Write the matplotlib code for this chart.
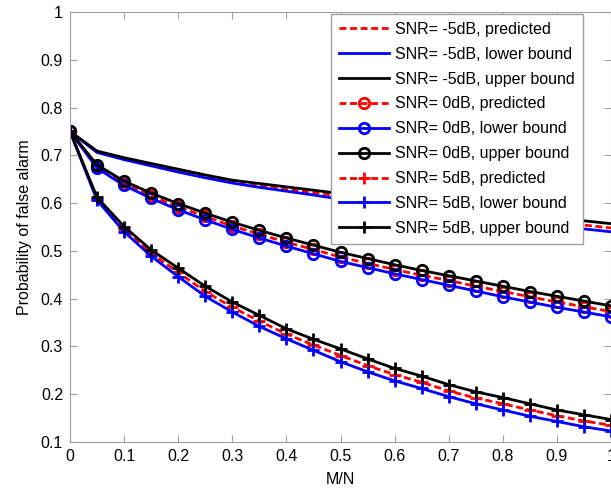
import matplotlib
matplotlib.use("Agg")
import matplotlib.pyplot as plt

plt.rcParams['font.family'] = ['Liberation Sans', 'DejaVu Sans']

mn = [0.0, 0.05, 0.1, 0.15, 0.2, 0.25, 0.3, 0.35, 0.4, 0.45, 0.5,
      0.55, 0.6, 0.65, 0.7, 0.75, 0.8, 0.85, 0.9, 0.95, 1.0]

# SNR = -5 dB
m5_pred = [0.750, 0.707, 0.693, 0.680, 0.668, 0.656, 0.645, 0.637, 0.629, 0.622, 0.614,
           0.607, 0.600, 0.594, 0.587, 0.580, 0.574, 0.567, 0.561, 0.554, 0.548]
m5_low = [0.750, 0.706, 0.691, 0.678, 0.665, 0.653, 0.642, 0.633, 0.625, 0.617, 0.608,
          0.601, 0.594, 0.587, 0.580, 0.573, 0.566, 0.559, 0.552, 0.546, 0.540]
m5_up = [0.750, 0.709, 0.695, 0.683, 0.671, 0.659, 0.648, 0.641, 0.634, 0.627, 0.620,
         0.614, 0.607, 0.601, 0.594, 0.588, 0.582, 0.576, 0.569, 0.563, 0.557]

# SNR = 0 dB
z_pred = [0.750, 0.676, 0.641, 0.615, 0.592, 0.572, 0.552, 0.535, 0.518, 0.503, 0.487,
          0.474, 0.461, 0.449, 0.438, 0.426, 0.415, 0.404, 0.393, 0.383, 0.373]
z_low = [0.750, 0.673, 0.637, 0.610, 0.586, 0.565, 0.545, 0.527, 0.510, 0.494, 0.478,
         0.465, 0.452, 0.440, 0.428, 0.416, 0.404, 0.393, 0.382, 0.372, 0.362]
z_up = [0.750, 0.680, 0.646, 0.621, 0.599, 0.579, 0.560, 0.543, 0.527, 0.512, 0.497,
        0.484, 0.471, 0.459, 0.448, 0.437, 0.426, 0.415, 0.405, 0.395, 0.385]

# SNR = 5 dB
p5_pred = [0.750, 0.609, 0.545, 0.495, 0.455, 0.415, 0.382, 0.353, 0.326, 0.303, 0.281,
           0.260, 0.241, 0.225, 0.207, 0.192, 0.180, 0.167, 0.155, 0.144, 0.135]
p5_low = [0.750, 0.606, 0.540, 0.489, 0.446, 0.405, 0.372, 0.342, 0.316, 0.292, 0.268,
          0.247, 0.228, 0.212, 0.195, 0.180, 0.167, 0.154, 0.143, 0.132, 0.123]
p5_up = [0.750, 0.612, 0.551, 0.502, 0.464, 0.426, 0.393, 0.365, 0.337, 0.315, 0.295,
         0.274, 0.254, 0.238, 0.220, 0.205, 0.193, 0.180, 0.167, 0.157, 0.147]

fig = plt.figure(figsize=(6.11, 4.88), dpi=100)
ax = fig.add_axes([70 / 611, 46 / 488, 541 / 611, 430 / 488])

fs = 11.5
lw = 2
dash = (2.5, 1.3)
series = [
    (m5_pred, 'r', '--', None, "SNR= -5dB, predicted"),
    (m5_low, 'b', '-', None, "SNR= -5dB, lower bound"),
    (m5_up, 'k', '-', None, "SNR= -5dB, upper bound"),
    (z_pred, 'r', '--', 'o', "SNR= 0dB, predicted"),
    (z_low, 'b', '-', 'o', "SNR= 0dB, lower bound"),
    (z_up, 'k', '-', 'o', "SNR= 0dB, upper bound"),
    (p5_pred, 'r', '--', '+', "SNR= 5dB, predicted"),
    (p5_low, 'b', '-', '+', "SNR= 5dB, lower bound"),
    (p5_up, 'k', '-', '+', "SNR= 5dB, upper bound"),
]
for y, c, ls, mk, lab in series:
    line, = ax.plot(mn, y, color=c, linestyle=ls, linewidth=lw, marker=mk,
                    markersize=7.5 if mk == 'o' else 9, markerfacecolor='none',
                    markeredgewidth=2, label=lab)
    if ls == '--':
        line.set_dashes(dash)

ax.set_xlim(0, 1)
ax.set_ylim(0.1, 1)
ax.set_xticks([0, 0.1, 0.2, 0.3, 0.4, 0.5, 0.6, 0.7, 0.8, 0.9, 1])
ax.set_xticklabels(['0', '0.1', '0.2', '0.3', '0.4', '0.5', '0.6', '0.7', '0.8', '0.9', '1'])
ax.set_yticks([0.1, 0.2, 0.3, 0.4, 0.5, 0.6, 0.7, 0.8, 0.9, 1])
ax.set_yticklabels(['0.1', '0.2', '0.3', '0.4', '0.5', '0.6', '0.7', '0.8', '0.9', '1'])
ax.tick_params(direction='in', top=True, right=True, labelsize=fs, length=5,
               color='#a0a0a0', pad=5)
for s in ax.spines.values():
    s.set_color('#a0a0a0')

ax.set_xlabel("M/N", fontsize=fs, labelpad=6)
ax.set_ylabel("Probability of false alarm", fontsize=fs, labelpad=6)

leg = ax.legend(loc='upper right', bbox_to_anchor=(0.948, 0.996), borderaxespad=0,
                fontsize=fs, handlelength=3.1, handletextpad=0.4, labelspacing=0.62,
                borderpad=0.5, fancybox=False, framealpha=1, edgecolor='#a0a0a0')
leg.get_frame().set_linewidth(1)

fig.savefig("out.png", dpi=100)
